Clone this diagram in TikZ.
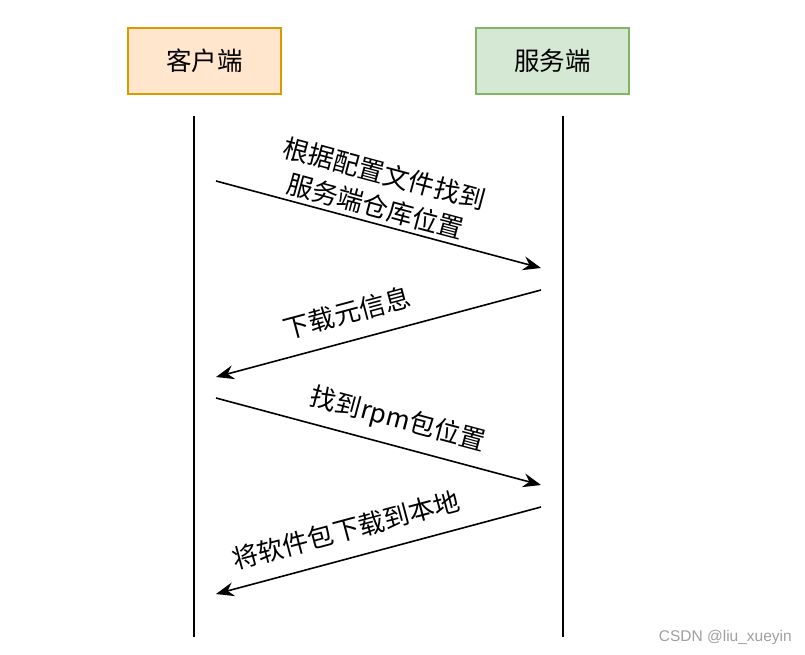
\documentclass[tikz,border=0pt]{standalone}
\usepackage{fontspec}
\setmainfont{Noto Sans CJK SC}
\newfontfamily\wmfont{Liberation Sans}
\usetikzlibrary{arrows.meta}
\definecolor{cfill}{HTML}{FFE6CC}
\definecolor{cdraw}{HTML}{D79B00}
\definecolor{sfill}{HTML}{D5E8D4}
\definecolor{sdraw}{HTML}{82B366}
\definecolor{wmgray}{HTML}{A0A0A0}
\begin{document}
\begin{tikzpicture}[x=1pt,y=-1pt,
  actor/.style={draw, line width=1.5pt, minimum width=153pt, minimum height=66pt, inner sep=0pt, font=\fontsize{25.5}{30}\selectfont},
  lifeline/.style={line width=1.6pt},
  msg/.style={line width=1.6pt, -{Stealth[length=18pt,width=14pt,inset=6pt]}},
  lbl/.style={font=\fontsize{26}{34}\selectfont, align=center, inner sep=0pt}]
\useasboundingbox[fill=white] (0,0) rectangle (805,655);
% actors
\node[actor, fill=cfill, draw=cdraw] (client) at (204.5,61) {客户端};
\node[actor, fill=sfill, draw=sdraw] (server) at (552.5,61) {服务端};
% lifelines
\coordinate (ctop) at (194,116);
\coordinate (cbot) at (194,637);
\coordinate (stop) at (563,116);
\coordinate (sbot) at (563,637);
\draw[lifeline] (ctop) -- (cbot);
\draw[lifeline] (stop) -- (sbot);
% message end points
\coordinate (m1a) at (216,181);
\coordinate (m1b) at (541,268);
\coordinate (m2a) at (541,290);
\coordinate (m2b) at (216,377);
\coordinate (m3a) at (216,398);
\coordinate (m3b) at (541,485);
\coordinate (m4a) at (541,507);
\coordinate (m4b) at (216,594);
\draw[msg] (m1a) -- (m1b);
\draw[msg] (m2a) -- (m2b);
\draw[msg] (m3a) -- (m3b);
\draw[msg] (m4a) -- (m4b);
% labels
\node[lbl, rotate=-15] (l1) at (380,190) {根据配置文件找到\\服务端仓库位置};
\node[lbl, rotate=15] (l2) at (347,313) {下载元信息};
\node[lbl, rotate=-15] (l3) at (398,420) {找到rpm包位置};
\node[lbl, rotate=15] (l4) at (346,530) {将软件包下载到本地};
% watermark
\node[anchor=east, inner sep=0pt, text=wmgray, font=\wmfont\fontsize{15.5}{17}\selectfont] (wm) at (792,637) {CSDN @liu\_xueyin};
\end{tikzpicture}
\end{document}
